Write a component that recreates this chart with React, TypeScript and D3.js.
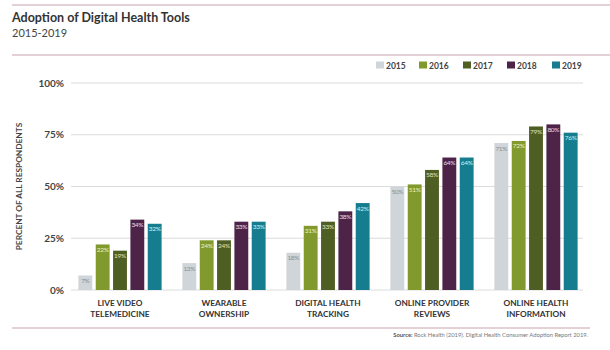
import React, { useEffect, useRef } from 'react';
import * as d3 from 'd3';

const categories = [
  ['LIVE VIDEO', 'TELEMEDICINE'],
  ['WEARABLE', 'OWNERSHIP'],
  ['DIGITAL HEALTH', 'TRACKING'],
  ['ONLINE PROVIDER', 'REVIEWS'],
  ['ONLINE HEALTH', 'INFORMATION'],
];
const years = ['2015', '2016', '2017', '2018', '2019'];
const values2015 = [7, 13, 18, 50, 71];
const values2016 = [22, 24, 31, 51, 72];
const values2017 = [19, 24, 33, 58, 79];
const values2018 = [34, 33, 38, 64, 80];
const values2019 = [32, 33, 42, 64, 76];
const yTicks = [0, 25, 50, 75, 100];

const series = [values2015, values2016, values2017, values2018, values2019];
const colors = ['#cfd5d8', '#81992d', '#4f5e22', '#4d2448', '#157d8e'];
const labelColors = ['#8a8f92', '#eef2c4', '#dfe4c0', '#eadcea', '#ccf1f8'];

const W = 610;
const H = 350;
const FONT = 'Lato, "Open Sans", sans-serif';

const App: React.FC = () => {
  const svgRef = useRef<SVGSVGElement>(null);

  useEffect(() => {
    if (!svgRef.current) return;
    const svg = d3.select(svgRef.current);
    svg.selectAll('*').remove();

    const x0 = d3.scaleBand<number>()
      .domain(d3.range(categories.length))
      .range([68, 588])
      .paddingInner(0.2)
      .paddingOuter(0.1);
    const x1 = d3.scaleBand<string>()
      .domain(years)
      .range([0, x0.bandwidth()])
      .paddingInner(0.2);
    const y = d3.scaleLinear().domain([0, 100]).range([290, 83]);

    // rules
    const rule = '#c9a3ad';
    svg.append('line').attr('x1', 12).attr('x2', 610).attr('y1', 5).attr('y2', 5)
      .attr('stroke', rule).attr('stroke-width', 1);
    svg.append('line').attr('x1', 12).attr('x2', 610).attr('y1', 55).attr('y2', 55)
      .attr('stroke', rule).attr('stroke-width', 1);
    svg.append('line').attr('x1', 12).attr('x2', 590).attr('y1', 328).attr('y2', 328)
      .attr('stroke', rule).attr('stroke-width', 1);

    // title
    svg.append('text').attr('x', 12).attr('y', 22)
      .style('font-family', FONT).style('font-size', '12.5px').style('font-weight', 'bold')
      .style('fill', '#333').text('Adoption of Digital Health Tools');
    svg.append('text').attr('x', 12).attr('y', 37)
      .style('font-family', FONT).style('font-size', '11px')
      .style('fill', '#444').text('2015-2019');

    // legend
    const legendX = [376, 419, 463, 507, 552];
    const lg = svg.append('g');
    years.forEach((yr, i) => {
      lg.append('rect').attr('x', legendX[i]).attr('y', 61.5).attr('width', 8).attr('height', 7)
        .attr('fill', colors[i]);
      lg.append('text').attr('x', legendX[i] + 10).attr('y', 68.5)
        .style('font-family', FONT).style('font-size', '8.5px').style('font-weight', 'bold')
        .style('fill', '#444').text(yr);
    });

    // grid + y ticks
    const grid = svg.append('g');
    yTicks.forEach(t => {
      grid.append('line').attr('x1', 71).attr('x2', 583).attr('y1', y(t)).attr('y2', y(t))
        .attr('stroke', '#dcdcdc').attr('stroke-width', 1);
      grid.append('text').attr('x', 64).attr('y', y(t)).attr('dy', '0.35em')
        .attr('text-anchor', 'end')
        .style('font-family', FONT).style('font-size', '10px').style('font-weight', 'bold')
        .style('fill', '#444').text(`${t}%`);
    });

    svg.append('text')
      .attr('transform', `translate(22, ${y(50)}) rotate(-90)`)
      .attr('text-anchor', 'middle')
      .style('font-family', FONT).style('font-size', '8.3px').style('font-weight', 'bold')
      .style('fill', '#444').text('PERCENT OF ALL RESPONDENTS');

    // bars
    const groups = svg.append('g').selectAll('g')
      .data(categories.map((_, ci) => ci))
      .enter().append('g')
      .attr('transform', ci => `translate(${x0(ci)},0)`);

    groups.each(function (ci) {
      const g = d3.select(this);
      years.forEach((yr, si) => {
        const v = series[si][ci];
        const bx = x1(yr) as number;
        g.append('rect')
          .attr('x', bx).attr('y', y(v))
          .attr('width', x1.bandwidth()).attr('height', y(0) - y(v))
          .attr('fill', colors[si]);
        g.append('text')
          .attr('x', bx + x1.bandwidth() / 2).attr('y', y(v) + 7.5)
          .attr('text-anchor', 'middle')
          .style('font-family', FONT).style('font-size', '6.5px')
          .style('letter-spacing', '-0.3px')
          .style('fill', labelColors[si]).text(`${v}%`);
      });
      const cx = x0.bandwidth() / 2;
      categories[ci].forEach((line, li) => {
        g.append('text')
          .attr('x', cx).attr('y', 306 + li * 11)
          .attr('text-anchor', 'middle')
          .style('font-family', FONT).style('font-size', '8.3px').style('font-weight', 'bold')
          .style('fill', '#333').text(line);
      });
    });

    // source
    const src = svg.append('text').attr('x', 588).attr('y', 337).attr('text-anchor', 'end')
      .style('font-family', FONT).style('font-size', '5.8px').style('fill', '#777');
    src.append('tspan').style('font-weight', 'bold').style('fill', '#555').text('Source: ');
    src.append('tspan').text('Rock Health (2019). Digital Health Consumer Adoption Report 2019.');
  }, []);

  return (
    <svg ref={svgRef} width={W} height={H}
      style={{ position: 'absolute', left: 0, top: 0, background: '#fff' }} />
  );
};

export default App;
